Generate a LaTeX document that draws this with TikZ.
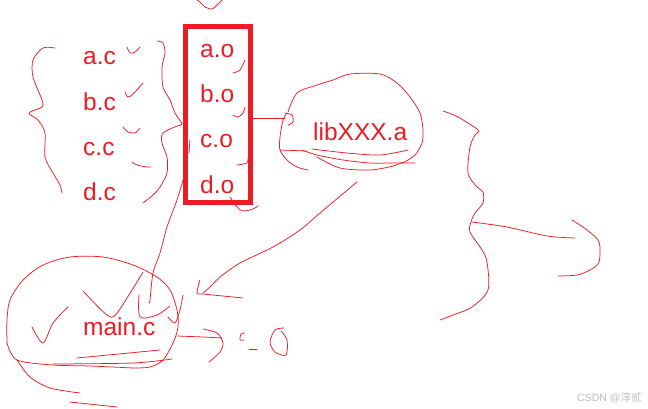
\documentclass[tikz,border=0pt]{standalone}
\usepackage{fontspec}
\setmainfont{Liberation Sans}
\newfontfamily\cjkfont{Noto Sans CJK SC}
\definecolor{penred}{RGB}{237,28,36}
\definecolor{wmgray}{RGB}{190,190,190}
\begin{document}
\begin{tikzpicture}[x=1pt,y=-1pt,
  lbl/.style={text=penred,inner sep=0pt,anchor=base west,font=\fontsize{24.5}{28}\selectfont},
  pen/.style={draw=penred,line width=0.75pt,line cap=round,line join=round},
  sk/.style={pen,smooth,tension=0.5}]
\useasboundingbox (0,0) rectangle (648,408);
\fill[white] (0,0) rectangle (648,408);

% source files
\node[lbl] (ac) at (83,64) {a.c};
\node[lbl] (bc) at (83,110) {b.c};
\node[lbl] (cc) at (83,155) {c.c};
\node[lbl] (dc) at (83,200) {d.c};
% object files
\node[lbl] (ao) at (200,57) {a.o};
\node[lbl] (bo) at (200,102) {b.o};
\node[lbl] (co) at (200,147) {c.o};
\node[lbl] (do) at (200,193) {d.o};
\draw[draw=penred,line width=5pt] (185.5,26.5) rectangle (250.5,202.5);
% library and main
\node[lbl] (lib) at (313,140) {libXXX.a};
\node[lbl] (main) at (83,335) {main.c};
% watermark
\node[text=wmgray,inner sep=0pt,anchor=base west,font=\fontsize{10.5}{12}\selectfont] (wm) at (577,401) {CSDN @{\cjkfont 淳贰}};

% top squiggle
\draw[sk] plot coordinates {(197,0) (200,2) (205,7) (212,9) (217,5) (222,0)};

% left brace
\draw[sk] plot coordinates {(55,48) (43,48) (33,60) (33,77) (42,100) (42,107) (29,113) (38,120) (45,133) (45,157) (53,173) (60,185) (62,193)};
% check marks next to .c
\draw[sk] plot coordinates {(127,47) (130,53) (135,52) (140,47)};
\draw[sk] plot coordinates {(125,92) (128,97) (133,94) (143,83)};
\draw[sk] plot coordinates {(123,127) (128,132) (135,133) (140,128)};
\draw[sk] plot coordinates {(132,162) (137,165) (147,167) (151,167)};
% right brace
\draw[sk] plot coordinates {(157,41) (163,43) (165,53) (162,67) (163,87) (170,100) (175,113) (182,124) (177,126) (163,133) (162,143) (167,157) (167,173) (160,187) (153,195) (143,203)};
\draw[pen] (190,140) -- (189,153);
% marks next to .o
\draw[sk] plot coordinates {(245,60) (240,70) (233,73)};
\draw[sk] plot coordinates {(245,107) (243,113) (238,117) (233,115)};
\draw[sk] plot coordinates {(248,158) (247,163) (237,165)};
\draw[sk] plot coordinates {(230,197) (237,207) (243,211) (253,209) (258,206)};

% box -> lib
\draw[pen] (253,118) -- (285,118);
\draw[sk] plot coordinates {(285,113) (292,115) (293,122) (288,125)};
% lib blob
\draw[sk] plot coordinates {(287,113) (283,120) (280,137) (280,150) (287,160) (297,167) (308,170)};
\draw[sk] plot coordinates {(288,112) (297,93) (317,85) (333,80) (350,74) (380,74) (397,83) (410,97) (420,113) (423,130) (422,143) (415,155) (403,163)};
\draw[pen] (280,150) -- (307,151);
\draw[sk] plot coordinates {(302,150) (317,155) (343,160) (370,163) (393,163) (415,163)};
\draw[sk] plot coordinates {(312,149) (347,153) (380,155) (408,150)};
\draw[sk] plot coordinates {(317,157) (340,168) (370,170) (393,166) (403,162)};

% box -> main
\draw[sk] plot coordinates {(183,180) (177,200) (167,227) (160,253) (153,273) (150,300) (149,303)};
% lib -> main arrow
\draw[sk] plot coordinates {(357,182) (320,213) (300,230) (273,247) (240,263) (220,277) (210,287) (203,293)};
\draw[sk] plot coordinates {(200,280) (197,293) (203,294) (243,298)};

% main blob
\draw[sk] plot coordinates {(7,343) (7,320) (10,300) (23,280) (43,265) (70,257) (103,257) (133,265) (157,277) (170,290) (177,310) (178,327) (173,343) (163,360) (150,367) (133,368)};
\draw[sk] plot coordinates {(133,368) (90,366) (53,365) (17,360) (7,343)};
\draw[sk] plot coordinates {(17,360) (30,377) (50,388) (80,393)};
\draw[pen] (70,402) -- (117,407);
\draw[pen] (77,358) -- (160,350);
\draw[sk] plot coordinates {(53,364) (133,363) (172,359)};
% marks inside main blob
\draw[sk] plot coordinates {(32,327) (43,343) (53,323) (68,307)};
\draw[sk] plot coordinates {(83,291) (107,315) (117,313) (143,272)};
\draw[sk] plot coordinates {(139,295) (140,317) (157,315) (170,306)};
\draw[sk] plot coordinates {(168,317) (175,323) (180,310) (183,295)};

% main -> right arrow and scribbles
\draw[sk] plot coordinates {(177,336) (203,337) (222,338)};
\draw[sk] plot coordinates {(203,329) (217,333) (223,343) (220,352) (209,362)};
\draw[sk] plot coordinates {(245,333) (241,334) (240,340) (244,340)};
\draw[pen] (249,349) -- (257,349);
\draw[sk] plot coordinates {(284,328) (275,330) (270,342) (275,352) (286,355) (287,340) (281,331)};

% right squiggle
\draw[sk] plot coordinates {(443,111) (458,117) (478,130) (475,135) (470,147) (468,173) (477,187) (483,192) (483,203) (475,213) (471,222) (470,232) (482,250) (487,262) (488,290) (472,307) (453,315) (440,320)};
\draw[sk] plot coordinates {(472,222) (507,227) (547,236) (575,238)};
\draw[sk] plot coordinates {(572,220) (587,230) (599,242) (599,262) (590,270) (577,275) (558,276)};
\end{tikzpicture}
\end{document}
